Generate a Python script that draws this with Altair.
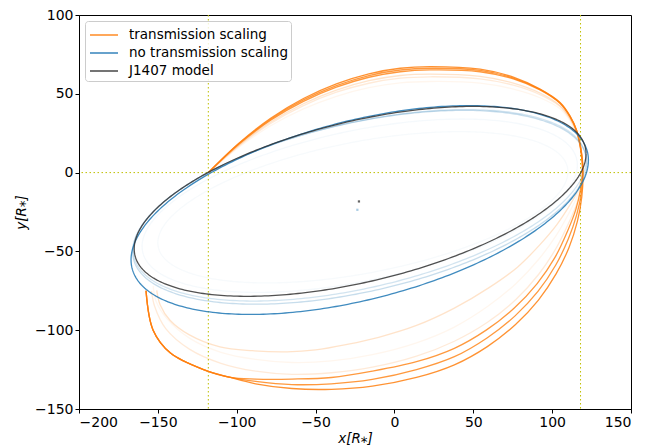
import altair as alt
import numpy as np
import pandas as pd

LABELS = ["transmission scaling", "no transmission scaling", "J1407 model"]
COLORS = ["#ff7f0e", "#1f77b4", "#333333"]

# ---- orange orbits ("transmission scaling") ----
# each list runs from (-118, 0) over the top, down the right side and under the bottom
o1_x = [-118, -98.6, -78.5, -57.7, -36.8, -16.2, 3.7, 22.5, 54.3, 75.4, 92.3, 105, 111.3, 115.6, 118.8, 119.6,
        118.8, 116, 110.7, 102.5, 91.3, 76.8, 58.9, 38, 14, -14, -40, -65, -88, -104, -121, -142, -153, -157.5]
o1_y = [0, 18.7, 34.5, 47, 56.3, 62.7, 66.2, 67.2, 65.6, 60.6, 53, 44.5, 36, 26.6, 11.8, 0.6,
        -15.4, -31, -47.5, -64.3, -80.9, -96.4, -110.4, -122, -130, -135.5, -137.5, -137, -134, -130, -125, -114.5, -100, -75]

o2_x = [-118, -98.6, -78.5, -57.7, -36.8, -16.2, 3.7, 22.5, 54.3, 75.4, 92.3, 105, 111.3, 115.6, 118.5, 119.3,
        118.5, 115.5, 110.3, 102.2, 91, 76.5, 58.7, 38, 14, -14, -40, -65, -88, -104, -121, -142, -153, -157.5]
o2_y = [0, 18, 33.2, 45.2, 54.2, 60.5, 64, 65.2, 64, 59.5, 52.5, 44, 35.5, 26.3, 12, 0.6,
        -13, -27, -42, -58.8, -75.4, -90.9, -104.9, -116.8, -125, -131.2, -134, -134.5, -132.5, -130, -125, -114.5, -100, -75]

o3_x = [-118, -98.6, -78.5, -57.7, -36.8, -16.2, 3.7, 22.5, 54.3, 75.4, 92.3, 105, 111.3, 115.6, 118.6, 119.4,
        118, 115, 109.8, 101.8, 90.5, 76, 58.4, 38, 14, -14, -40, -65, -88, -104, -121, -142, -153, -157.5]
o3_y = [0, 18.4, 33.9, 46.1, 55.2, 61.6, 65.1, 66.2, 64.8, 60, 52.8, 44.2, 35.7, 26.4, 12, 0.6,
        -11, -23.5, -37, -53.8, -70.4, -85.9, -99.8, -111.5, -120, -126, -130, -131, -131, -130, -125, -114.5, -100, -75]

o4_x = [-118, -98.6, -78.5, -57.7, -36.8, -16.2, 3.7, 22.5, 54.3, 75.4, 92.3, 105, 111.3, 115.6, 118.5, 119.2,
        118.5, 116, 111, 103, 92, 78, 60, 38, 14, -10, -30, -50, -68, -90, -110.6, -130, -142.3, -148.5, -150.7]
o4_y = [0, 17.4, 32.1, 43.7, 52.3, 58.3, 61.6, 62.5, 61, 56.8, 50.5, 42.5, 34.5, 25.5, 11.5, 0.6,
        -4, -12, -21, -33, -46, -60, -73, -86, -97, -104.5, -109, -112.5, -113.7, -113, -110.6, -103, -93.7, -84, -74.7]

o5_x = [-118, -98.6, -78.5, -57.7, -36.8, -16.2, 3.7, 22.5, 54.3, 75.4, 92.3, 105, 111.3, 115.6, 118.5, 119.2,
        118.5, 115.5, 110.5, 102.5, 91.5, 77, 59, 38, 14, -14, -40, -65, -88, -110, -130, -145, -152, -154]
o5_y = [0, 16.9, 31.2, 42.5, 51, 56.7, 59.9, 60.8, 59.5, 55.5, 49.5, 42, 34, 25.2, 11.5, 0.6,
        -8, -20, -32, -48, -64.5, -80.5, -95, -107, -116.5, -123.5, -127, -128, -126, -121, -112, -99, -85, -75]

o6_x = [-118, -98.6, -78.5, -57.7, -36.8, -16.2, 3.7, 22.5, 54.3, 75.4, 92.3, 105, 111.3, 115.6, 118.5, 119.2,
        118.5, 115.5, 110.5, 102.5, 91.5, 77, 59, 38, 14, -14, -40, -65, -88, -110, -130, -144, -151, -153]
o6_y = [0, 16.1, 29.7, 40.4, 48.4, 53.9, 56.9, 57.8, 56.8, 53, 47.5, 40.5, 33, 24.5, 11.5, 0.6,
        -6, -16, -26, -40, -55, -70.5, -85, -98, -108, -115.5, -119.5, -120.5, -118.5, -114, -105, -93, -82, -72]

orange_curves = [(o6_x, o6_y, 0.07), (o5_x, o5_y, 0.16), (o4_x, o4_y, 0.22),
                 (o3_x, o3_y, 0.8), (o2_x, o2_y, 0.8), (o1_x, o1_y, 0.85)]

# ---- blue orbits and J1407 model: ellipse parameters ----
# x = cx + ax*cos(t), y = cy + by*cos(t - phase)
ell_label = [1, 1, 1, 1, 1]
ell_cx = [-20, -22, -22, -22, -22]
ell_cy = [-22, -21, -20.75, -22, -23.75]
ell_ax = [130, 138, 143.5, 144, 145]
ell_by = [48, 55, 60.75, 61.5, 66.25]
ell_ph = [62, 62, 62, 62.8, 61.5]
ell_op = [0.035, 0.045, 0.2, 0.25, 0.85]

model_cx, model_cy, model_ax, model_by, model_ph = -21.75, -18.25, 143.25, 60.25, 60.0

# reference lines and centre markers
vline_x = [-118, 118]
hline_y = [0]
dot_x = [-22.5, -23.5]
dot_y = [-18.3, -23.6]
dot_col = ["#555555", "#9ec5e0"]

# ---- build tables ----
rows = []
for k, (xs, ys, op) in enumerate(orange_curves):
    for i, (x, y) in enumerate(zip(xs, ys)):
        rows.append(dict(cid=f"o{k}", i=i, x=x, y=y, label=LABELS[0], op=op))
orange_df = pd.DataFrame(rows)

t = np.linspace(0, 2 * np.pi, 361)
rows = []
for k in range(len(ell_cx)):
    xs = ell_cx[k] + ell_ax[k] * np.cos(t)
    ys = ell_cy[k] + ell_by[k] * np.cos(t - np.radians(ell_ph[k]))
    for i, (x, y) in enumerate(zip(xs, ys)):
        rows.append(dict(cid=f"b{k}", i=i, x=float(x), y=float(y), label=LABELS[ell_label[k]], op=ell_op[k]))
blue_df = pd.DataFrame(rows)

xs = model_cx + model_ax * np.cos(t)
ys = model_cy + model_by * np.cos(t - np.radians(model_ph))
model_df = pd.DataFrame(dict(cid="m", i=np.arange(len(t)), x=xs, y=ys, label=LABELS[2], op=0.85))

vdf = pd.DataFrame(dict(x=vline_x))
hdf = pd.DataFrame(dict(y=hline_y))
ddf = pd.DataFrame(dict(x=dot_x, y=dot_y, c=dot_col))

minus = "replace(datum.label, '-', '\u2212')"
xscale = alt.Scale(domain=[-200, 150], nice=False, zero=False)
yscale = alt.Scale(domain=[-150, 100], nice=False, zero=False)
xaxis = alt.Axis(values=[-200, -150, -100, -50, 0, 50, 100, 150], title="x[R\u204e]", labelExpr=minus, titlePadding=2)
yaxis = alt.Axis(values=[-150, -100, -50, 0, 50, 100], title="y[R\u204e]", labelExpr=minus, titlePadding=6)
X = alt.X("x:Q", scale=xscale, axis=xaxis)
Y = alt.Y("y:Q", scale=yscale, axis=yaxis)

color = alt.Color(
    "label:N",
    scale=alt.Scale(domain=LABELS, range=COLORS),
    legend=alt.Legend(
        title=None, orient="top-left", offset=6, padding=3,
        symbolType="M-1.4,0H1.4", symbolSize=400, symbolStrokeWidth=1.5, symbolOffset=5,
        labelOffset=14, labelFontSize=13.5, labelFont="DejaVu Sans", labelColor="black", labelLimit=300,
        rowPadding=0, fillColor="rgba(255,255,255,0.8)", strokeColor="#cccccc", cornerRadius=3,
    ),
)

vrules = alt.Chart(vdf).mark_rule(color="#bfbf00", strokeDash=[1.5, 2.5], strokeWidth=1).encode(x=X)
hrules = alt.Chart(hdf).mark_rule(color="#bfbf00", strokeDash=[1.5, 2.5], strokeWidth=1).encode(y=Y)

orange = alt.Chart(orange_df).mark_line(interpolate="catmull-rom", strokeWidth=1.3).encode(
    x=X, y=Y, color=color, detail="cid:N", order="i:Q", opacity=alt.Opacity("op:Q", scale=None)
)
blue = alt.Chart(blue_df).mark_line(strokeWidth=1.3).encode(
    x=X, y=Y, color=color, detail="cid:N", order="i:Q", opacity=alt.Opacity("op:Q", scale=None)
)
model = alt.Chart(model_df).mark_line(strokeWidth=1.3).encode(
    x=X, y=Y, color=color, detail="cid:N", order="i:Q", opacity=alt.Opacity("op:Q", scale=None)
)
dots = alt.Chart(ddf).mark_square(size=5, opacity=0.9).encode(
    x=X, y=Y, color=alt.Color("c:N", scale=None)
)

chart = alt.layer(vrules, hrules, orange, blue, model, dots).properties(
    width=552, height=394,
    padding={"left": 71, "top": 7, "right": 10, "bottom": 37},
    autosize=alt.AutoSizeParams(type="none"),
).configure_view(stroke="black", strokeWidth=1).configure_axis(
    grid=False, domainColor="black", tickColor="black", labelColor="black", titleColor="black",
    labelFont="DejaVu Sans", titleFont="DejaVu Sans", labelFontSize=14, titleFontSize=13.5,
    titleFontWeight="normal", titleFontStyle="italic", tickSize=4, labelPadding=2,
)

chart.save("out.html", embed_options={"renderer": "svg", "actions": False})
